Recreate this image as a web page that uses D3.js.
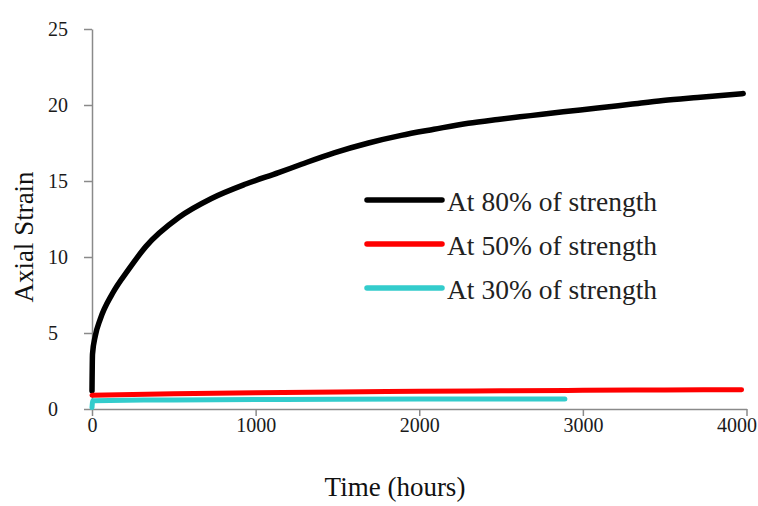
<!DOCTYPE html>
<html>
<head>
<meta charset="utf-8">
<script src="https://cdn.jsdelivr.net/npm/d3@7"></script>
<style>
  body { margin: 0; background: #fff; }
  svg { display: block; font-family: "Liberation Serif", "Times New Roman", serif; }
</style>
</head>
<body>
<div id="chart"></div>
<script>
// Creep curves: time in hours, axial strain
const hours80 = [0, 3, 20, 50, 125, 225, 330, 530, 730, 940, 1140, 1280, 1480, 1690, 1890, 2090, 2300, 2480, 2680, 2880, 3090, 3290, 3490, 3700, 3980]
const strain80 = [1.2, 3.6, 4.8, 5.9, 7.6, 9.2, 10.7, 12.6, 13.85, 14.8, 15.55, 16.1, 16.85, 17.5, 18.0, 18.4, 18.8, 19.05, 19.3, 19.55, 19.8, 20.05, 20.3, 20.5, 20.75]

const hours50 = [0, 500, 1000, 1500, 2000, 2500, 3000, 3500, 3970]
const strain50 = [0.9, 1.0, 1.07, 1.12, 1.17, 1.2, 1.23, 1.25, 1.27]

const hours30 = [0, 5, 500, 1000, 1500, 2000, 2500, 2890]
const strain30 = [0.1, 0.55, 0.6, 0.62, 0.64, 0.65, 0.66, 0.66]

const seriesNames = ["At 80% of strength", "At 50% of strength", "At 30% of strength"]
const seriesColors = ["#000000", "#ff0000", "#33cccc"]

const xTicks = [0, 1000, 2000, 3000, 4000]
const yTicks = [0, 5, 10, 15, 20, 25]

const width = 758
const height = 506

const svg = d3.select("#chart")
  .append("svg")
  .attr("width", width)
  .attr("height", height)

const xScale = d3.scaleLinear().domain([0, 4000]).range([92, 746.5])
const yScale = d3.scaleLinear().domain([0, 25]).range([409, 29])

// axes
const xAxis = d3.axisBottom(xScale)
  .tickValues(xTicks)
  .tickFormat(d3.format("d"))
  .tickSize(7)
  .tickSizeOuter(0)
  .tickPadding(2)
const gx = svg.append("g").attr("transform", `translate(0, ${yScale(0)})`).call(xAxis)

const yAxis = d3.axisLeft(yScale).tickValues(yTicks).tickSize(8).tickSizeOuter(0)
const gy = svg.append("g").attr("transform", `translate(${xScale(0)}, 0)`).call(yAxis)

for (const g of [gx, gy]) {
  g.select(".domain").attr("stroke", "#8a8a8a").attr("stroke-width", 1.5)
  g.selectAll(".tick line").attr("stroke", "#8a8a8a").attr("stroke-width", 1.5)
  g.selectAll(".tick text")
    .attr("font-family", "Liberation Serif")
    .attr("font-size", 20)
    .attr("fill", "#1a1a1a")
}
// y labels sit left-aligned in the reference
gy.selectAll(".tick text").attr("text-anchor", "start").attr("x", -44)
// last x label is pushed in against the right edge
gx.selectAll(".tick text").filter(d => d === 4000).attr("text-anchor", "end").attr("x", 10)

// lines
const series = [
  { hours: hours80, strain: strain80 },
  { hours: hours50, strain: strain50 },
  { hours: hours30, strain: strain30 },
]

const line = d3.line()
  .x(d => xScale(d[0]))
  .y(d => yScale(d[1]))
  .curve(d3.curveMonotoneX)

series.forEach((s, i) => {
  const pts = s.hours.map((h, j) => [h, s.strain[j]])
  svg.append("path")
    .datum(pts)
    .attr("d", line)
    .attr("fill", "none")
    .attr("stroke", seriesColors[i])
    .attr("stroke-width", i === 0 ? 5.5 : 5)
    .attr("stroke-linecap", "round")
    .attr("stroke-linejoin", "round")
})

// legend
const legend = svg.append("g").attr("transform", "translate(367, 200)")
seriesNames.forEach((name, i) => {
  const y = i * 44
  legend.append("line")
    .attr("x1", 0).attr("x2", 75)
    .attr("y1", y).attr("y2", y)
    .attr("stroke", seriesColors[i])
    .attr("stroke-width", 5.5)
    .attr("stroke-linecap", "round")
  legend.append("text")
    .attr("x", 80)
    .attr("y", y + 11)
    .attr("font-size", 27.5)
    .attr("fill", "#222")
    .text(name)
})

// axis titles
svg.append("text")
  .attr("x", 395)
  .attr("y", 496)
  .attr("text-anchor", "middle")
  .attr("font-size", 27)
  .attr("fill", "#111")
  .text("Time (hours)")

svg.append("text")
  .attr("transform", "translate(33, 237) rotate(-90)")
  .attr("text-anchor", "middle")
  .attr("font-size", 27)
  .attr("fill", "#111")
  .text("Axial Strain")
</script>
</body>
</html>
